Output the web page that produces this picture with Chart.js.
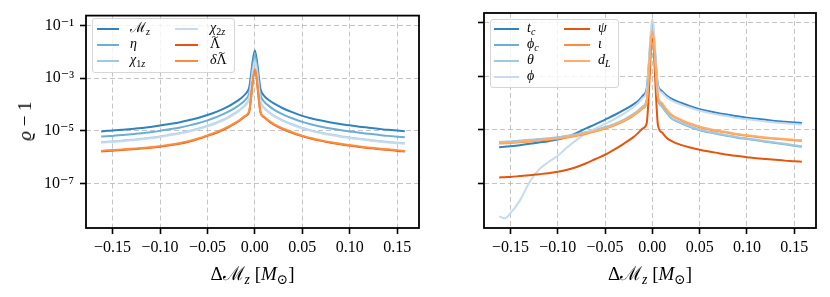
<!DOCTYPE html>
<html><head><meta charset="utf-8">
<script src="https://cdn.jsdelivr.net/npm/chart.js@4/dist/chart.umd.min.js"></script>
<style>
html,body{margin:0;padding:0;background:#fff;}
#wrap{position:relative;width:830px;height:297px;overflow:hidden;font-family:"Liberation Serif","DejaVu Serif",serif;color:#000;}
canvas{position:absolute;top:0;}
.lbl{position:absolute;white-space:nowrap;transform:translate(-50%,-50%);}
.leg{position:absolute;background:rgba(255,255,255,0.8);border:1px solid #d6d6d6;border-radius:3px;box-sizing:border-box;}
.li{position:absolute;height:2px;}
.lt{position:absolute;font-size:14px;line-height:16px;white-space:nowrap;}
sub{font-size:72%;vertical-align:baseline;position:relative;top:0.32em;}
.tl{position:relative;display:inline-block;}
.tl>span{position:absolute;left:0;right:0;top:-0.55em;text-align:center;font-size:85%;}
</style></head>
<body>
<div id="wrap">
  <canvas id="cL" width="420" height="297" style="left:0px;width:420px;height:297px"></canvas>
  <canvas id="cR" width="410" height="297" style="left:420px;width:410px;height:297px"></canvas>
</div>
<script>
// ---- x sampling (ΔMz, in solar masses) ----
const dMz = [-0.162,-0.156,-0.15,-0.14,-0.13,-0.12,-0.11,-0.10,-0.09,-0.08,-0.07,-0.06,-0.05,-0.04,-0.03,-0.02,-0.015,-0.01,-0.006,0,
             0.006,0.01,0.015,0.02,0.03,0.04,0.05,0.06,0.07,0.08,0.09,0.10,0.11,0.12,0.13,0.14,0.15,0.158];

// ---- left panel, log10(ϱ-1) ----
const logMz   = [-5.02,-5.00,-4.99,-4.96,-4.93,-4.89,-4.85,-4.80,-4.74,-4.68,-4.60,-4.51,-4.40,-4.27,-4.11,-3.90,-3.77,-3.60,-3.35,-1.95,
                 -3.42,-3.68,-3.84,-3.96,-4.15,-4.30,-4.43,-4.53,-4.61,-4.68,-4.74,-4.79,-4.84,-4.88,-4.92,-4.96,-4.99,-5.01];
const logEta  = [-5.21,-5.20,-5.19,-5.16,-5.13,-5.09,-5.05,-5.00,-4.94,-4.88,-4.80,-4.71,-4.60,-4.47,-4.31,-4.11,-3.98,-3.82,-3.57,-2.12,
                 -3.64,-3.90,-4.06,-4.19,-4.38,-4.53,-4.66,-4.76,-4.84,-4.91,-4.97,-5.02,-5.07,-5.11,-5.15,-5.19,-5.22,-5.24];
const logChi1 = [-5.43,-5.41,-5.40,-5.37,-5.34,-5.30,-5.26,-5.21,-5.15,-5.09,-5.01,-4.92,-4.81,-4.68,-4.52,-4.31,-4.18,-4.01,-3.77,-2.32,
                 -3.87,-4.13,-4.29,-4.42,-4.61,-4.76,-4.89,-4.99,-5.07,-5.14,-5.20,-5.25,-5.30,-5.34,-5.38,-5.42,-5.45,-5.47];
const logChi2 = [-5.45,-5.43,-5.42,-5.39,-5.36,-5.32,-5.28,-5.23,-5.17,-5.11,-5.03,-4.94,-4.83,-4.70,-4.54,-4.33,-4.20,-4.03,-3.79,-2.36,
                 -3.89,-4.15,-4.31,-4.44,-4.63,-4.78,-4.91,-5.01,-5.09,-5.16,-5.22,-5.27,-5.32,-5.36,-5.40,-5.44,-5.47,-5.49];
const logLam  = [-5.78,-5.76,-5.75,-5.73,-5.70,-5.67,-5.64,-5.60,-5.55,-5.49,-5.41,-5.31,-5.19,-5.06,-4.90,-4.70,-4.58,-4.44,-4.27,-2.70,
                 -4.31,-4.49,-4.64,-4.76,-4.94,-5.08,-5.20,-5.30,-5.38,-5.45,-5.51,-5.56,-5.61,-5.65,-5.69,-5.72,-5.76,-5.78];
const logDLam = [-5.76,-5.74,-5.73,-5.71,-5.68,-5.65,-5.62,-5.58,-5.53,-5.47,-5.39,-5.29,-5.17,-5.04,-4.88,-4.68,-4.56,-4.42,-4.25,-2.65,
                 -4.29,-4.47,-4.62,-4.74,-4.92,-5.06,-5.18,-5.28,-5.36,-5.43,-5.49,-5.54,-5.59,-5.63,-5.67,-5.70,-5.74,-5.76];

// ---- right panel ----
const logTc   = [-5.66,-5.64,-5.62,-5.58,-5.53,-5.48,-5.43,-5.37,-5.27,-5.12,-4.95,-4.79,-4.62,-4.45,-4.26,-4.05,-3.92,-3.72,-3.45,-1.20,
                 -3.35,-3.55,-3.72,-3.84,-3.99,-4.12,-4.23,-4.31,-4.38,-4.44,-4.50,-4.55,-4.59,-4.63,-4.67,-4.70,-4.73,-4.75];
const logPhic = [-5.48,-5.47,-5.46,-5.43,-5.40,-5.37,-5.34,-5.30,-5.25,-5.19,-5.11,-5.02,-4.92,-4.80,-4.64,-4.43,-4.30,-4.14,-3.90,-1.10,
                 -3.87,-4.12,-4.37,-4.57,-4.75,-4.90,-5.02,-5.10,-5.17,-5.24,-5.30,-5.35,-5.40,-5.45,-5.50,-5.55,-5.60,-5.64];
const logTheta= [-5.46,-5.45,-5.44,-5.41,-5.38,-5.35,-5.32,-5.28,-5.23,-5.17,-5.09,-5.00,-4.90,-4.78,-4.62,-4.41,-4.28,-4.12,-3.88,-1.15,
                 -3.85,-4.10,-4.35,-4.55,-4.73,-4.88,-5.00,-5.08,-5.15,-5.22,-5.28,-5.33,-5.38,-5.43,-5.48,-5.53,-5.58,-5.62];
const logPhi  = [-8.25,-8.32,-8.13,-7.65,-6.98,-6.50,-6.22,-5.98,-5.66,-5.38,-5.14,-4.95,-4.78,-4.60,-4.40,-4.15,-4.00,-3.80,-3.55,-0.85,
                 -3.42,-3.61,-3.78,-3.90,-4.05,-4.18,-4.29,-4.37,-4.44,-4.50,-4.56,-4.61,-4.65,-4.69,-4.73,-4.76,-4.79,-4.81];
const logPsi  = [-6.79,-6.78,-6.77,-6.74,-6.71,-6.67,-6.63,-6.58,-6.50,-6.40,-6.26,-6.10,-5.94,-5.74,-5.52,-5.28,-5.12,-4.95,-4.76,-1.60,
                 -4.85,-5.10,-5.30,-5.42,-5.57,-5.67,-5.75,-5.82,-5.88,-5.94,-5.99,-6.03,-6.07,-6.10,-6.13,-6.16,-6.18,-6.20];
const logIota = [-5.52,-5.51,-5.50,-5.47,-5.44,-5.41,-5.38,-5.34,-5.29,-5.23,-5.15,-5.06,-4.96,-4.84,-4.68,-4.47,-4.34,-4.20,-3.97,-1.35,
                 -3.82,-4.02,-4.27,-4.45,-4.64,-4.79,-4.91,-4.99,-5.06,-5.12,-5.18,-5.23,-5.27,-5.31,-5.34,-5.37,-5.40,-5.42];
const logDL   = [-5.50,-5.49,-5.48,-5.45,-5.42,-5.39,-5.36,-5.32,-5.27,-5.21,-5.13,-5.04,-4.94,-4.82,-4.66,-4.45,-4.32,-4.18,-3.95,-1.28,
                 -3.80,-4.00,-4.25,-4.43,-4.62,-4.77,-4.89,-4.97,-5.04,-5.10,-5.16,-5.21,-5.25,-5.29,-5.32,-5.35,-5.38,-5.40];

// ---- labels ----
const leftLabels  = ['ℳz','η','χ1z','χ2z','Λ̃','δΛ̃'];
const TL = '<span class="tl">Λ<span>~</span></span>';
const leftLegend  = ['ℳ<sub><i>z</i></sub>','<i>η</i>','<i>χ</i><sub>1<i>z</i></sub>','<i>χ</i><sub>2<i>z</i></sub>',TL,'<i>δ</i>'+TL];
const rightLabels = ['tc','ϕc','θ','ϕ','ψ','ι','dL'];
const rightLegend = ['<i>t</i><sub><i>c</i></sub>','<i>ϕ</i><sub><i>c</i></sub>','<i>θ</i>','<i>ϕ</i>','<i>ψ</i>','<i>ι</i>','<i>d</i><sub><i>L</i></sub>'];
const xTicks = [-0.15,-0.10,-0.05,0,0.05,0.10,0.15];
const xTickLabels = ['−0.15','−0.10','−0.05','0.00','0.05','0.10','0.15'];
const yTicks = [1e-7,1e-5,1e-3,1e-1];
const yTickLabels = ['10⁻⁷','10⁻⁵','10⁻³','10⁻¹'];

const leftColors  = ['#3182bd','#6baed6','#9ecae1','#c6dbef','#e6550d','#fd8d3c'];
const rightColors = ['#3182bd','#6baed6','#9ecae1','#c6dbef','#e6550d','#fd8d3c','#fdae6b'];

const FONT = '"Liberation Serif","DejaVu Serif",serif';

const framePlugin = {
  id:'frame',
  afterDatasetsDraw(chart){
    const {ctx, chartArea:a} = chart;
    ctx.save(); ctx.strokeStyle='#000'; ctx.lineWidth=1.8;
    ctx.strokeRect(a.left, a.top, a.right-a.left, a.bottom-a.top);
    ctx.restore();
  }
};

function build(canvasId, labels, seriesList, colors, yWidth, padRight, showY){
  const n = seriesList.length;
  const datasets = seriesList.map((s,i)=>({
    label: labels[i],
    data: dMz.map((x,j)=>({x:x, y:Math.pow(10, s[j])})),
    borderColor: colors[i], backgroundColor: colors[i],
    borderWidth: 2, pointRadius: 0, fill:false,
    cubicInterpolationMode:'monotone',
    order: n - i
  }));
  return new Chart(document.getElementById(canvasId), {
    type:'line',
    data:{datasets},
    options:{
      responsive:false, animation:false, devicePixelRatio:1, events:[],
      layout:{padding:{left:0,right:padRight,top:13,bottom:0}},
      plugins:{legend:{display:false}, tooltip:{enabled:false}, title:{display:false}},
      scales:{
        x:{
          type:'linear', min:-0.178, max:0.173,
          afterBuildTicks:(s)=>{ s.ticks = xTicks.map(v=>({value:v})); },
          afterFit:(s)=>{ s.height = 69; },
          ticks:{autoSkip:false, maxRotation:0, minRotation:0, padding:4, color:'#000',
                 font:{family:FONT, size:16}, callback:(v,i)=>xTickLabels[i]},
          grid:{color:'rgba(176,176,176,0.75)', lineWidth:1, tickColor:'#000', tickLength:6, tickWidth:1.6},
          border:{display:false, dash:[5,3]}
        },
        y:{
          type:'logarithmic', min:2.06e-9, max:0.237,
          afterBuildTicks:(s)=>{ s.ticks = yTicks.map(v=>({value:v, major:true})); },
          afterFit:(s)=>{ s.width = yWidth; },
          ticks:{display:showY, autoSkip:false, padding:6, color:'#000',
                 font:{family:FONT, size:16}, callback:(v,i)=>yTickLabels[i]},
          grid:{color:'rgba(176,176,176,0.75)', lineWidth:1, tickColor:'#000', tickLength:6, tickWidth:1.6},
          border:{display:false, dash:[5,3]}
        }
      }
    },
    plugins:[framePlugin]
  });
}

const chartL = build('cL', leftLabels, [logMz,logEta,logChi1,logChi2,logLam,logDLam], leftColors, 86, 1, true);
const chartR = build('cR', rightLabels, [logTc,logPhic,logTheta,logPhi,logPsi,logIota,logDL], rightColors, 64, 14, false);

// ---- HTML overlays: legends and axis titles (math formatting) ----
const wrap = document.getElementById('wrap');
function add(html, cls, style){
  const d = document.createElement('div'); d.className = cls; d.innerHTML = html;
  Object.assign(d.style, style); wrap.appendChild(d); return d;
}
function legend(chart, html, box, cols, rowsY){
  add('', 'leg', {left:box[0]+'px', top:box[1]+'px', width:box[2]+'px', height:box[3]+'px'});
  let k = 0;
  cols.forEach(c=>{
    for(let r=0;r<c.n;r++,k++){
      const ds = chart.data.datasets[k];
      add('', 'li', {left:c.lx+'px', top:(rowsY[r]-1)+'px', width:c.lw+'px', background:ds.borderColor});
      add(html[k], 'lt', {left:c.tx+'px', top:(rowsY[r]-9)+'px'});
    }
  });
}
legend(chartL, leftLegend, [92,18,143,55],
  [{n:3,lx:97,lw:22,tx:130},{n:3,lx:175,lw:23,tx:210}], [29,44.5,60.5]);
legend(chartR, rightLegend, [490,19,129,69],
  [{n:4,lx:494,lw:25,tx:527},{n:3,lx:564,lw:26,tx:598}], [29,44.5,60.5,76.5]);

const xTitle = 'Δℳ<sub><i>z</i></sub> [<i>M</i><sub>⊙</sub>]';
add(xTitle, 'lbl', {left:'252.5px', top:'273px', fontSize:'19px'});
add(xTitle, 'lbl', {left:'650px', top:'273px', fontSize:'19px'});
add('<i>ϱ</i> − 1', 'lbl', {left:'25px', top:'121px', fontSize:'19px', transform:'translate(-50%,-50%) rotate(-90deg)'});
</script>
</body></html>
